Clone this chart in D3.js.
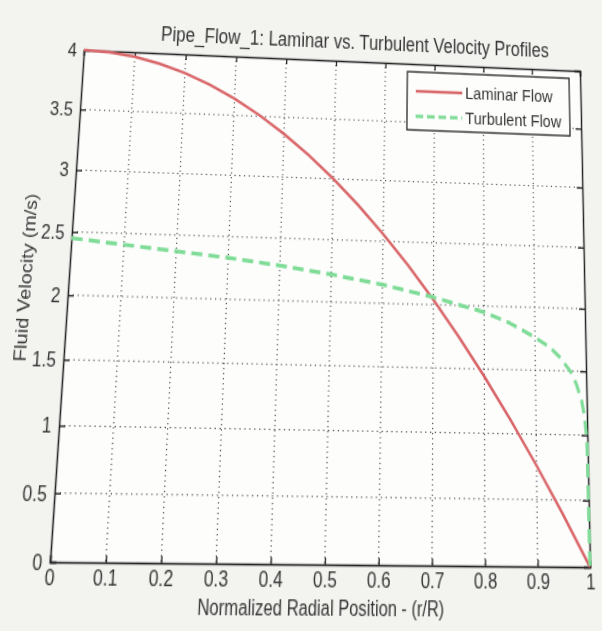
<!DOCTYPE html>
<html>
<head>
<meta charset="utf-8">
<script src="https://cdn.jsdelivr.net/npm/d3@7"></script>
<style>
  body { margin: 0; background: #f3f3f0; overflow: hidden; }
  #chart { width: 602px; height: 631px; }
  #chart svg { display: block; transform-origin: 0 0; }
  text { font-family: "Liberation Sans", Arial, Helvetica, sans-serif; fill: #363636; }
</style>
</head>
<body>
<div id="chart"></div>
<script>

// laminar profile
const laminarR = [0, 0.05, 0.1, 0.15, 0.2, 0.25, 0.3, 0.35, 0.4, 0.45, 0.5,
                  0.55, 0.6, 0.65, 0.7, 0.75, 0.8, 0.85, 0.9, 0.95, 1];
const laminarV = [4.0, 3.99, 3.96, 3.91, 3.84, 3.75, 3.64, 3.51, 3.36, 3.19, 3.0,
                  2.79, 2.56, 2.31, 2.04, 1.75, 1.44, 1.11, 0.76, 0.39, 0];

// turbulent profile
const turbR = [0, 0.1, 0.2, 0.3, 0.4, 0.5, 0.6, 0.7, 0.8, 0.85, 0.9,
               0.93, 0.95, 0.97, 0.98, 0.99, 0.995, 0.998, 0.999, 1];
const turbV = [2.45, 2.41, 2.37, 2.33, 2.28, 2.22, 2.15, 2.06, 1.95, 1.87, 1.76,
               1.68, 1.60, 1.49, 1.40, 1.27, 1.15, 1.01, 0.91, 0];

const xTicks = [0, 0.1, 0.2, 0.3, 0.4, 0.5, 0.6, 0.7, 0.8, 0.9, 1];
const yTicks = [0, 0.5, 1, 1.5, 2, 2.5, 3, 3.5, 4];

const seriesNames = ["Laminar Flow", "Turbulent Flow"];
const titleText = "Pipe_Flow_1:  Laminar vs. Turbulent Velocity Profiles";
const xLabel = "Normalized Radial Position - (r/R)";
const yLabel = "Fluid Velocity (m/s)";

function drawChart() {

	// figure drawn at matlab's usual axes proportions, then warped (see bottom)
	var W = 602, H = 631;
	var margin = {top: 48, left: 67},
	w = 518,
	h = 410;

	var svg = d3.select("#chart")
				.append("svg")
				.attr("width", W)
				.attr("height", H);

	var g = svg.append("g")
			   .attr("transform", "translate(" + margin.left + "," + margin.top + ")");

	var xScale = d3.scaleLinear().domain([0, 1]).range([0, w]);
	var yScale = d3.scaleLinear().domain([0, 4]).range([h, 0]);

	// white axes background
	g.append("rect")
	 .attr("width", w)
	 .attr("height", h)
	 .attr("fill", "#fdfdfc");

	// dotted grid (matlab "grid on")
	g.selectAll(".vgrid")
	 .data(xTicks.slice(1, -1))
	 .enter()
	 .append("line")
	 .attr("class", "vgrid")
	 .attr("x1", d => xScale(d)).attr("x2", d => xScale(d))
	 .attr("y1", 0).attr("y2", h)
	 .attr("stroke", "#444")
	 .attr("stroke-width", 1.1)
	 .attr("stroke-dasharray", "1,3");

	g.selectAll(".hgrid")
	 .data(yTicks.slice(1, -1))
	 .enter()
	 .append("line")
	 .attr("class", "hgrid")
	 .attr("x1", 0).attr("x2", w)
	 .attr("y1", d => yScale(d)).attr("y2", d => yScale(d))
	 .attr("stroke", "#444")
	 .attr("stroke-width", 1)
	 .attr("stroke-dasharray", "1.2,3.6");

	// axes, ticks pointing inward
	var xAxis = d3.axisBottom(xScale).tickValues(xTicks).tickSize(-5).tickPadding(5)
				  .tickFormat(d => d3.format("")(d));
	var yAxis = d3.axisLeft(yScale).tickValues(yTicks).tickSize(-6).tickPadding(7)
				  .tickFormat(d => d3.format("")(d));

	var gX = g.append("g")
			  .attr("transform", "translate(0," + h + ")")
			  .call(xAxis);
	var gY = g.append("g").call(yAxis);

	g.append("g").call(d3.axisTop(xScale).tickValues(xTicks).tickSize(-5).tickFormat(""));
	g.append("g").attr("transform", "translate(" + w + ",0)")
	 .call(d3.axisRight(yScale).tickValues(yTicks).tickSize(-6).tickFormat(""));

	g.selectAll(".domain").attr("stroke", "#222").attr("stroke-width", 1.5);
	g.selectAll(".tick line").attr("stroke", "#222").attr("stroke-width", 1.3);
	g.selectAll(".tick text").attr("font-size", 16.5).attr("fill", "#363636");

	// curves
	var line = d3.line()
				 .x(d => xScale(d[0]))
				 .y(d => yScale(d[1]));

	g.append("path")
	 .datum(d3.zip(laminarR, laminarV))
	 .attr("d", line)
	 .attr("fill", "none")
	 .attr("stroke", "#d9676a")
	 .attr("stroke-width", 2.5);

	g.append("path")
	 .datum(d3.zip(turbR, turbV))
	 .attr("d", line)
	 .attr("fill", "none")
	 .attr("stroke", "#7fdc97")
	 .attr("stroke-width", 3.2)
	 .attr("stroke-dasharray", "11,6");

	// legend
	var lg = g.append("g").attr("transform", "translate(" + (w - 184) + ",7)");
	lg.append("rect")
	  .attr("width", 172)
	  .attr("height", 51)
	  .attr("fill", "#fdfdfc")
	  .attr("stroke", "#222")
	  .attr("stroke-width", 1.3);

	var legendStyle = [
		{color: "#d9676a", dash: null, width: 2.5},
		{color: "#7fdc97", dash: "8,4", width: 3.2}
	];
	seriesNames.forEach(function(name, i) {
		var yy = 17 + i * 22;
		lg.append("line")
		  .attr("x1", 9).attr("x2", 58)
		  .attr("y1", yy).attr("y2", yy)
		  .attr("stroke", legendStyle[i].color)
		  .attr("stroke-width", legendStyle[i].width)
		  .attr("stroke-dasharray", legendStyle[i].dash);
		lg.append("text")
		  .attr("x", 61).attr("y", yy + 5)
		  .attr("font-size", 15.5)
		  .text(name);
	});

	// title and axis labels
	svg.append("text")
	   .attr("x", margin.left + w / 2 + 22)
	   .attr("y", margin.top - 11)
	   .attr("text-anchor", "middle")
	   .attr("font-size", 17.5)
	   .text(titleText);

	svg.append("text")
	   .attr("x", margin.left + w / 2 - 2)
	   .attr("y", margin.top + h + 38)
	   .attr("text-anchor", "middle")
	   .attr("font-size", 15.8)
	   .text(xLabel);

	svg.append("text")
	   .attr("transform", "translate(" + (margin.left - 36) + "," + (margin.top + h / 2 - 14) + ") rotate(-90)")
	   .attr("text-anchor", "middle")
	   .attr("font-size", 16)
	   .text(yLabel);

	// the reference is a photo of a printout, so the whole figure is seen
	// in perspective: map the axes box onto the photographed corners
	var src = [[margin.left, margin.top], [margin.left + w, margin.top],
			   [margin.left + w, margin.top + h], [margin.left, margin.top + h]];
	var dst = [[84, 50], [580, 71], [590, 567], [50, 562]];
	var m = homography(src, dst);
	svg.style("transform", "matrix3d(" + [m[0], m[3], 0, m[6], m[1], m[4], 0, m[7],
										  0, 0, 1, 0, m[2], m[5], 0, 1].join(",") + ")");
}

// solve the 8 unknowns of a plane projective map from 4 point pairs
function homography(src, dst) {
	var A = [], b = [];
	for (var i = 0; i < 4; i++) {
		var x = src[i][0], y = src[i][1], u = dst[i][0], v = dst[i][1];
		A.push([x, y, 1, 0, 0, 0, -x * u, -y * u]); b.push(u);
		A.push([0, 0, 0, x, y, 1, -x * v, -y * v]); b.push(v);
	}
	var n = 8;
	for (var c = 0; c < n; c++) {
		var p = c;
		for (var r = c + 1; r < n; r++) if (Math.abs(A[r][c]) > Math.abs(A[p][c])) p = r;
		var t = A[c]; A[c] = A[p]; A[p] = t;
		t = b[c]; b[c] = b[p]; b[p] = t;
		for (r = 0; r < n; r++) {
			if (r === c) continue;
			var f = A[r][c] / A[c][c];
			for (var k = c; k < n; k++) A[r][k] -= f * A[c][k];
			b[r] -= f * b[c];
		}
	}
	return b.map((v, i) => v / A[i][i]);
}

drawChart();
</script>
</body>
</html>
